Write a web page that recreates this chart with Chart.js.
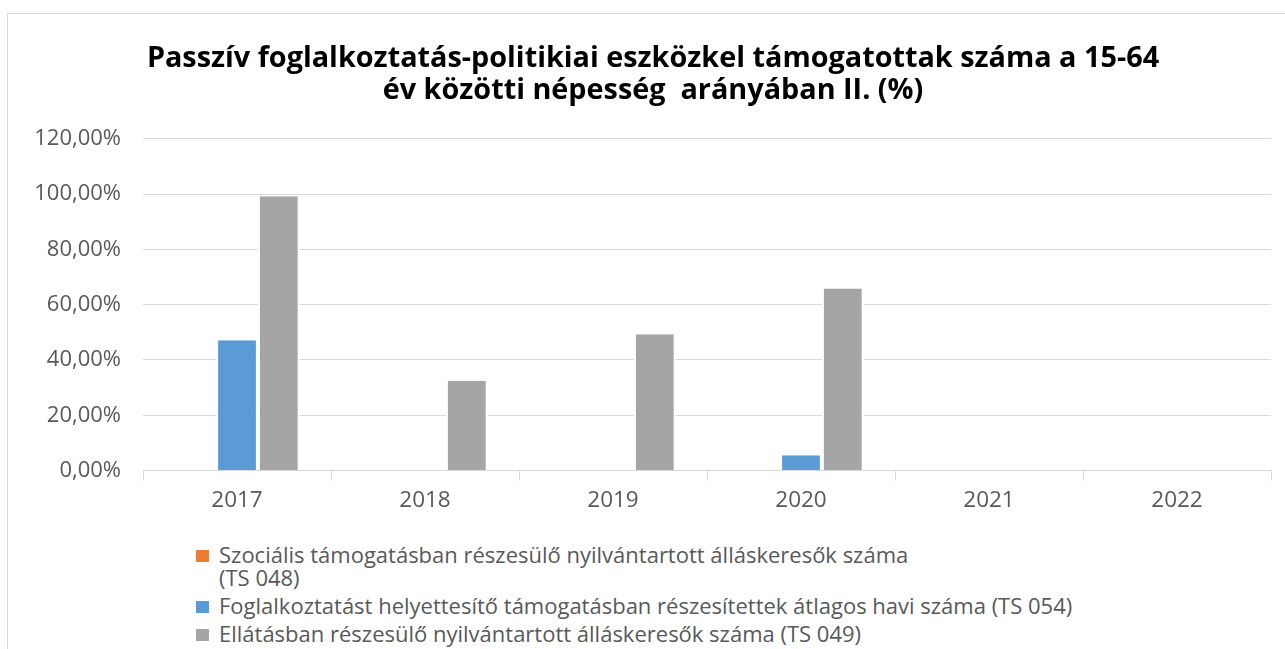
<!DOCTYPE html>
<html>
<head>
<meta charset="utf-8">
<script src="https://cdn.jsdelivr.net/npm/chart.js@4/dist/chart.umd.min.js"></script>
<style>
  html, body { margin: 0; padding: 0; background: #fff; overflow: hidden; }
  #frame {
    position: absolute; left: 7px; top: 13px; width: 1290px; height: 650px;
    border: 1px solid #d9d9d9; box-sizing: border-box;
  }
  #wrap { position: absolute; left: 0; top: 0; width: 1285px; height: 530px; }
  #legend {
    position: absolute; left: 196px; top: 543px;
    font-family: "Open Sans", sans-serif; font-size: 22px; color: #595959;
  }
  .item { display: flex; align-items: flex-start; margin-bottom: 5px; line-height: 23px; }
  .box { width: 13px; height: 12px; margin: 7px 10px 0 0; flex: none; }
</style>
</head>
<body>
<div id="frame"></div>
<div id="wrap"><canvas id="chart"></canvas></div>
<div id="legend"></div>
<script>
// ─── Data ───

var years = ["2017", "2018", "2019", "2020", "2021", "2022"];
var szocialis = [0, 0, 0, 0, 0, 0];
var helyettesito = [47.1, 0, 0, 5.5, 0, 0];
var ellatas = [99.3, 32.5, 49.3, 65.9, 0, 0];

var seriesLabels = [
  ["Szociális támogatásban részesülő nyilvántartott álláskeresők száma", "(TS 048)"],
  ["Foglalkoztatást helyettesítő támogatásban részesítettek átlagos havi száma (TS 054)"],
  ["Ellátásban részesülő nyilvántartott álláskeresők száma (TS 049)"],
];
var seriesColors = ["#ED7D31", "#5B9BD5", "#A5A5A5"];

var titleLines = [
  "Passzív foglalkoztatás-politikiai eszközkel támogatottak száma a 15-64",
  "év közötti népesség  arányában II. (%)",
];

var yMin = 0, yMax = 120, yStep = 20;

// ─── Chart ───

var seriesData = [szocialis, helyettesito, ellatas];

var datasets = seriesData.map(function (d, i) {
  return {
    label: seriesLabels[i].join(" "),
    data: d,
    backgroundColor: seriesColors[i],
    borderColor: "#ffffff",
    borderWidth: { left: 2, right: 2, top: 0, bottom: 0 },
    borderSkipped: false,
    categoryPercentage: 3 / 4.5,
    barPercentage: 1,
  };
});

// title is centred on the whole frame, not on the plot area
var centreTitle = {
  id: "centreTitle",
  afterLayout: function (chart) {
    if (chart.titleBlock) chart.titleBlock.left = 35;
  },
};

new Chart(document.getElementById("chart"), {
  type: "bar",
  data: { labels: years, datasets: datasets },
  plugins: [centreTitle],
  options: {
    responsive: true,
    maintainAspectRatio: false,
    animation: false,
    layout: { padding: { left: 0, right: 14, top: 0, bottom: 0 } },
    plugins: {
      legend: { display: false },
      tooltip: { enabled: false },
      title: {
        display: true,
        text: titleLines,
        color: "#000000",
        font: { family: "Open Sans", size: 28.8, weight: "bold", lineHeight: 1.11 },
        padding: { top: 43, bottom: 32 },
      },
    },
    scales: {
      x: {
        offset: true,
        grid: {
          offset: true,
          drawOnChartArea: false,
          drawTicks: true,
          tickLength: 10,
          color: "#d9d9d9",
        },
        border: { display: true, color: "#d9d9d9" },
        ticks: {
          color: "#595959",
          font: { family: "Open Sans", size: 22.5 },
          padding: 7,
        },
        afterFit: function (scale) { scale.height = 59.5; },
      },
      y: {
        min: yMin,
        max: yMax,
        grid: { color: "#d9d9d9", drawTicks: false },
        border: { display: false },
        ticks: {
          stepSize: yStep,
          color: "#595959",
          font: { family: "Open Sans", size: 22 },
          padding: 22,
          callback: function (v) { return v.toFixed(2).replace(".", ",") + "%"; },
        },
        afterFit: function (scale) { scale.width = 143; },
      },
    },
  },
});

// ─── Legend ───

var legend = document.getElementById("legend");
seriesLabels.forEach(function (lines, i) {
  var item = document.createElement("div");
  item.className = "item";
  var box = document.createElement("span");
  box.className = "box";
  box.style.background = seriesColors[i];
  var text = document.createElement("span");
  lines.forEach(function (line, j) {
    if (j > 0) text.appendChild(document.createElement("br"));
    text.appendChild(document.createTextNode(line));
  });
  item.appendChild(box);
  item.appendChild(text);
  legend.appendChild(item);
});
</script>
</body>
</html>
